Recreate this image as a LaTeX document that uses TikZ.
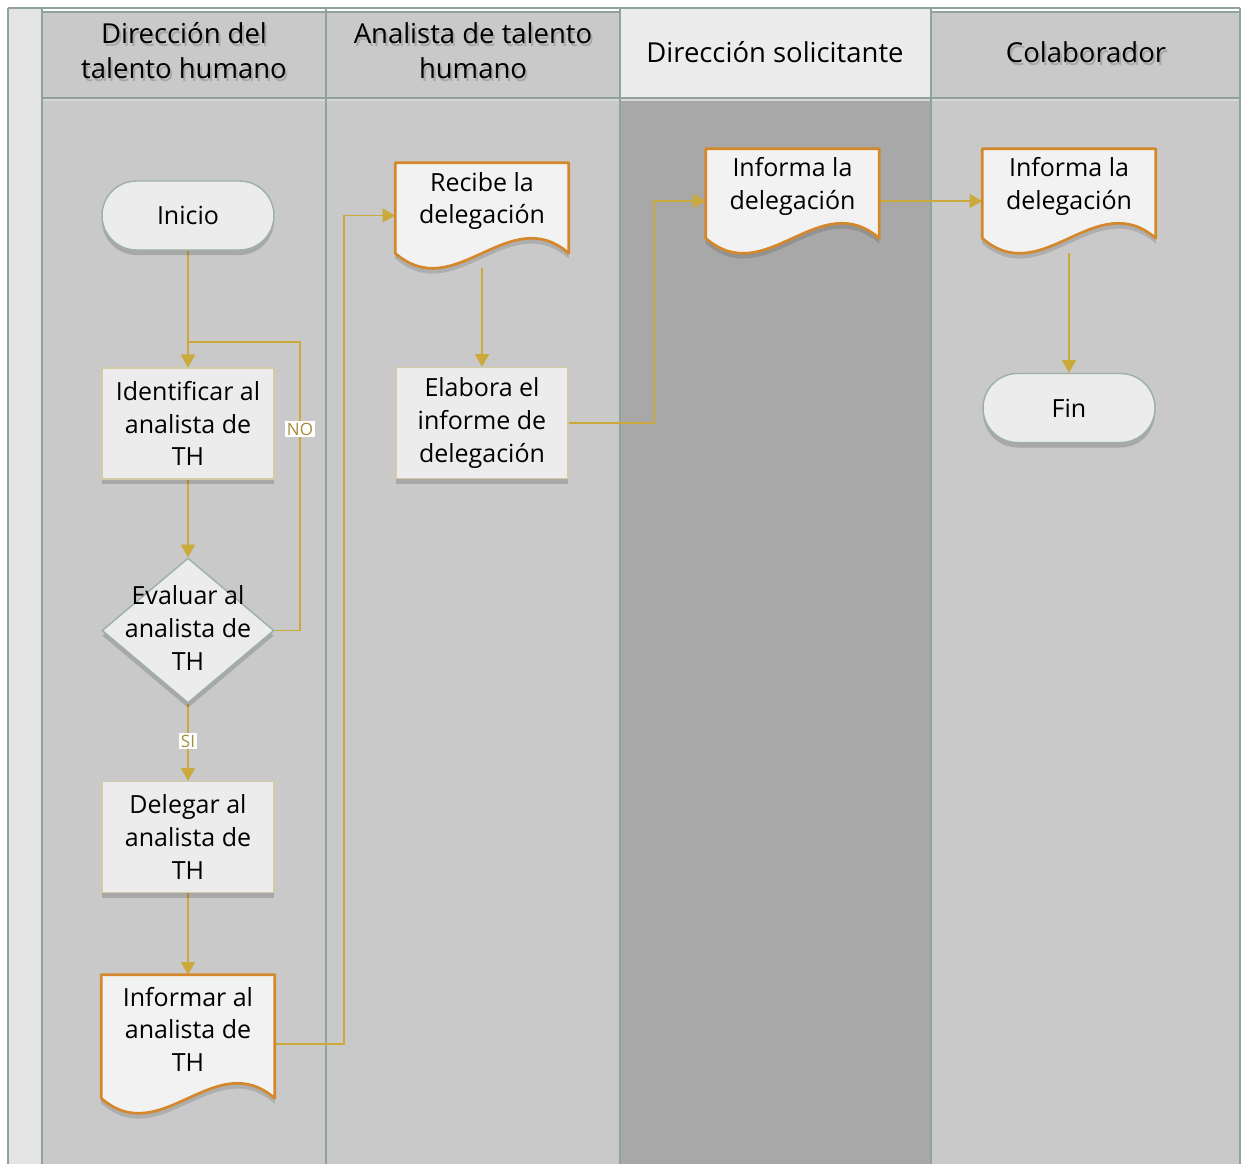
\documentclass[tikz,border=0pt]{standalone}
\usepackage{fontspec}
\setmainfont{Open Sans}
\usetikzlibrary{shapes.geometric,shapes.misc,arrows.meta,shadows}

\definecolor{lanebg}{HTML}{C9C9C9}
\definecolor{lanedark}{HTML}{A8A8A8}
\definecolor{hdrlight}{HTML}{ECECEC}
\definecolor{strip}{HTML}{E4E4E4}
\definecolor{band}{HTML}{D8D8D8}
\definecolor{rule}{HTML}{8FA39B}
\definecolor{boxfill}{HTML}{ECECEC}
\definecolor{docfill}{HTML}{F2F2F2}
\definecolor{tanline}{HTML}{D3CAA6}
\definecolor{sage}{HTML}{9DB1A8}
\definecolor{docorange}{HTML}{D5872B}
\definecolor{gold}{HTML}{CBA93A}
\definecolor{goldtxt}{HTML}{A68D3A}

\pgfdeclarelayer{lanes}
\pgfdeclarelayer{links}
\pgfdeclarelayer{docs}
\pgfsetlayers{lanes,links,docs,main}

\begin{document}
\begin{tikzpicture}[x=0.75pt,y=-0.75pt,
  txt/.style={font=\fontsize{18.75pt}{24.4pt}\selectfont, align=center, text=black},
  softshadow/.style={drop shadow={shadow xshift=0pt, shadow yshift=-3.75pt, fill=black, opacity=.16}},
  proc/.style={txt, rectangle, draw=tanline, line width=1.1pt, fill=boxfill,
    minimum width=129pt, minimum height=83.25pt, inner sep=0pt, softshadow},
  term/.style={txt, rounded rectangle, draw=sage, line width=1.1pt, fill=boxfill,
    minimum width=129pt, minimum height=51.75pt, inner sep=0pt, softshadow},
  decide/.style={diamond, draw=sage, line width=1.1pt, fill=boxfill,
    minimum width=129pt, minimum height=108.75pt, inner sep=0pt, softshadow},
  docbox/.style={rectangle, minimum width=129.75pt, inner sep=0pt},
  docline/.style={draw=docorange, line width=2pt, fill=docfill, line join=round},
  docshadow/.style={fill=black, opacity=.13},
  flow/.style={draw=gold, line width=1.15pt, -{Triangle[width=10.5pt,length=9.5pt]}},
  tag/.style={fill=white, text=goldtxt, font=\fontsize{12.75pt}{14pt}\selectfont, inner sep=1.2pt},
  hdr/.style={font=\fontsize{20.6pt}{26.3pt}\selectfont, align=center, text=black},
  hdrshade/.style={hdr, text=black!40, opacity=.7},
  lanerule/.style={draw=rule, line width=1.5pt},
]

% ---------- swimlanes ----------
\begin{pgfonlayer}{lanes}
  \fill[white] (0,0) rectangle (1246,1164);
  \fill[strip] (8,8) rectangle (42,1164);
  \fill[lanebg] (42,12) rectangle (620,98);
  \fill[hdrlight] (620,8) rectangle (931,98);
  \fill[lanebg] (931,12) rectangle (1240,98);
  \fill[band] (42,98) rectangle (1240,101);
  \fill[lanebg] (42,101) rectangle (620,1164);
  \fill[lanedark] (620,101) rectangle (931,1164);
  \fill[lanebg] (931,101) rectangle (1240,1164);
  \draw[lanerule] (8,8) -- (1240,8);
  \draw[lanerule] (42,12) -- (620,12);
  \draw[lanerule] (931,12) -- (1240,12);
  \draw[lanerule] (42,98) -- (1240,98);
  \foreach \lx in {8,42,326,620,931,1240}
    \draw[lanerule] (\lx,8) -- (\lx,1164);
\end{pgfonlayer}

% lane headers
\node[hdrshade] (hd1s) at (186,54) {Dirección del\\talento humano};
\node[hdr] (hd1) at (184,51) {Dirección del\\talento humano};
\node[hdrshade] (hd2s) at (475,54) {Analista de talento\\humano};
\node[hdr] (hd2) at (473,51) {Analista de talento\\humano};
\node[hdr] (hd3) at (775,52) {Dirección solicitante};
\node[hdrshade] (hd4s) at (1088,55) {Colaborador};
\node[hdr] (hd4) at (1086,52) {Colaborador};

% ---------- flow elements ----------
\node[term] (inicio) at (188,215.5) {Inicio};
\node[proc] (ident) at (188,423.5) {Identificar al\\analista de\\TH};
\node[decide] (eval) at (188,630.5) {};
\node[txt] (evalt) at (188,628) {Evaluar al\\analista de\\TH};
\node[proc] (deleg) at (188,837) {Delegar al\\analista de\\TH};
\node[docbox, minimum height=103.5pt] (infA) at (188,1044) {};

\node[docbox, minimum height=78.75pt] (recibe) at (482,215.5) {};
\node[proc] (elab) at (482,423) {Elabora el\\informe de\\delegación};

\node[docbox, minimum height=78pt] (infB) at (792.5,201) {};

\node[docbox, minimum height=78pt] (infC) at (1069,201) {};
\node[term] (fin) at (1069,408) {Fin};

% document shapes with a wavy lower edge
\begin{pgfonlayer}{docs}
  \foreach \n in {infA,recibe,infB,infC}{
    \path[docshadow] ([yshift=-4pt]\n.north west) -- ([yshift=-4pt]\n.north east)
      -- ([yshift=7.25pt]\n.south east)
      .. controls ([xshift=-45pt,yshift=46.25pt]\n.south east)
      and ([xshift=45pt,yshift=-31.75pt]\n.south west)
      .. ([yshift=7.25pt]\n.south west) -- cycle;
    \path[docline] (\n.north west) -- (\n.north east)
      -- ([yshift=11.25pt]\n.south east)
      .. controls ([xshift=-45pt,yshift=50.25pt]\n.south east)
      and ([xshift=45pt,yshift=-27.75pt]\n.south west)
      .. ([yshift=11.25pt]\n.south west) -- cycle;
  }
\end{pgfonlayer}

\node[txt] (infAt) at ([yshift=11.25pt]infA.center) {Informar al\\analista de\\TH};
\node[txt] (recibet) at ([yshift=11pt]recibe.center) {Recibe la\\delegación};
\node[txt] (infBt) at ([yshift=11pt]infB.center) {Informa la\\delegación};
\node[txt] (infCt) at ([yshift=11pt]infC.center) {Informa la\\delegación};

% ---------- connectors ----------
\coordinate (noturn) at (300,342);
\coordinate (c1) at (344,0);
\coordinate (c2) at (654,0);
\begin{pgfonlayer}{links}
  \draw[flow] (inicio.south) -- (ident.north);
  \draw[flow] (ident.south) -- (eval.north);
  \draw[flow] (eval.east) -| (noturn) -| (ident.north);
  \draw[flow] (eval.south) -- (deleg.north);
  \draw[flow] (deleg.south) -- (infA.north);
  \draw[flow] (infA.east) -| (c1 |- recibe.west) -- (recibe.west);
  \draw[flow] (recibe.south) -- (elab.north);
  \draw[flow] (elab.east) -| (c2 |- infB.west) -- (infB.west);
  \draw[flow] (infB.east) -- (infC.west);
  \draw[flow] (infC.south) -- (fin.north);
\end{pgfonlayer}
\node[tag] (nolbl) at (300,429) {NO};
\node[tag] (silbl) at (188,741) {SI};

\end{tikzpicture}
\end{document}
